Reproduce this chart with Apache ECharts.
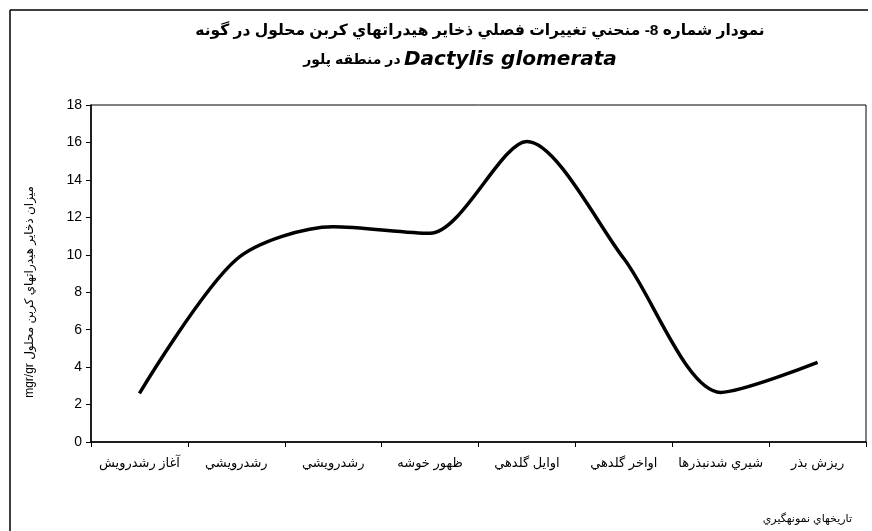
<!DOCTYPE html>
<html>
<head>
<meta charset="utf-8">
<script src="https://cdn.jsdelivr.net/npm/echarts@6/dist/echarts.min.js"></script>
<style>html,body{margin:0;padding:0;background:#fff;}#c{width:872px;height:531px;}</style>
</head>
<body>
<div id="c"></div>
<script>
var titleLine1 = 'نمودار شماره 8- منحني تغييرات فصلي ذخاير هيدراتهاي كربن محلول در گونه';
var titleSpecies = 'Dactylis glomerata';
var titleRegion = 'در منطقه پلور';
var yAxisTitle = 'mgr/gr ميزان ذخاير هيدراتهاي كربن محلول';
var xAxisTitle = 'تاريخهاي نمونهگيري';
var categories = ['آغاز رشدرويش', 'رشدرويشي', 'رشدرويشي', 'ظهور خوشه', 'اوايل گلدهي', 'اواخر گلدهي', 'شيري شدنبذرها', 'ريزش بذر'];
var values = [2.6, 9.75, 11.5, 11.15, 16.05, 9.8, 2.65, 4.25];
var yTicks = {min: 0, max: 18, interval: 2};

var FONT = '"Liberation Sans", Arial, "DejaVu Sans", sans-serif';
var chart = echarts.init(document.getElementById('c'));
chart.setOption({
  backgroundColor: '#fff',
  animation: false,
  graphic: [
    {type: 'line', shape: {x1: 10, y1: 10, x2: 868, y2: 10}, style: {stroke: '#000', lineWidth: 1.5}},
    {type: 'line', shape: {x1: 10, y1: 10, x2: 10, y2: 531}, style: {stroke: '#000', lineWidth: 1.5}},
    {type: 'text', x: 480, y: 31,
     style: {text: titleLine1, fontFamily: FONT, fontSize: 15.5, fontWeight: 'bold', fill: '#000',
             textAlign: 'center', textVerticalAlign: 'middle'}},
    {type: 'text', x: 460, y: 60,
     style: {text: '{ar|' + titleRegion + '} {lat|' + titleSpecies + '}', fill: '#000',
             textAlign: 'center', textVerticalAlign: 'middle',
             rich: {
               ar: {fontFamily: FONT, fontSize: 14, fontWeight: 'bold', fill: '#000', color: '#000'},
               lat: {fontFamily: '"DejaVu Sans", sans-serif', fontSize: 20, fontWeight: 'bold', fontStyle: 'italic', fill: '#000', color: '#000'}
             }}},
    {type: 'text', x: 30, y: 292, rotation: Math.PI / 2,
     style: {text: yAxisTitle, fontFamily: FONT, fontSize: 12, fill: '#000', textAlign: 'center', textVerticalAlign: 'middle'}},
    {type: 'text', x: 852, y: 519,
     style: {text: xAxisTitle, fontFamily: FONT, fontSize: 11, fill: '#000', textAlign: 'right', textVerticalAlign: 'middle'}}
  ],
  grid: {left: 91, top: 105, right: 6, bottom: 89, show: true, borderColor: '#000', borderWidth: 1},
  xAxis: {
    type: 'category', data: categories, boundaryGap: true,
    axisLine: {lineStyle: {color: '#000', width: 1.5}},
    axisTick: {show: true, length: 5, lineStyle: {color: '#000'}},
    axisLabel: {color: '#000', fontFamily: FONT, fontSize: 13, margin: 15, interval: 0}
  },
  yAxis: {
    type: 'value', min: yTicks.min, max: yTicks.max, interval: yTicks.interval,
    axisLine: {show: true, lineStyle: {color: '#000', width: 1.5}},
    axisTick: {show: true, length: 5, lineStyle: {color: '#000'}},
    axisLabel: {color: '#000', fontFamily: FONT, fontSize: 14, margin: 9},
    splitLine: {show: false}
  },
  series: [{
    type: 'line', data: values, smooth: 0.28, showSymbol: false, symbol: 'none',
    lineStyle: {color: '#000', width: 3.5}
  }]
});
</script>
</body>
</html>
